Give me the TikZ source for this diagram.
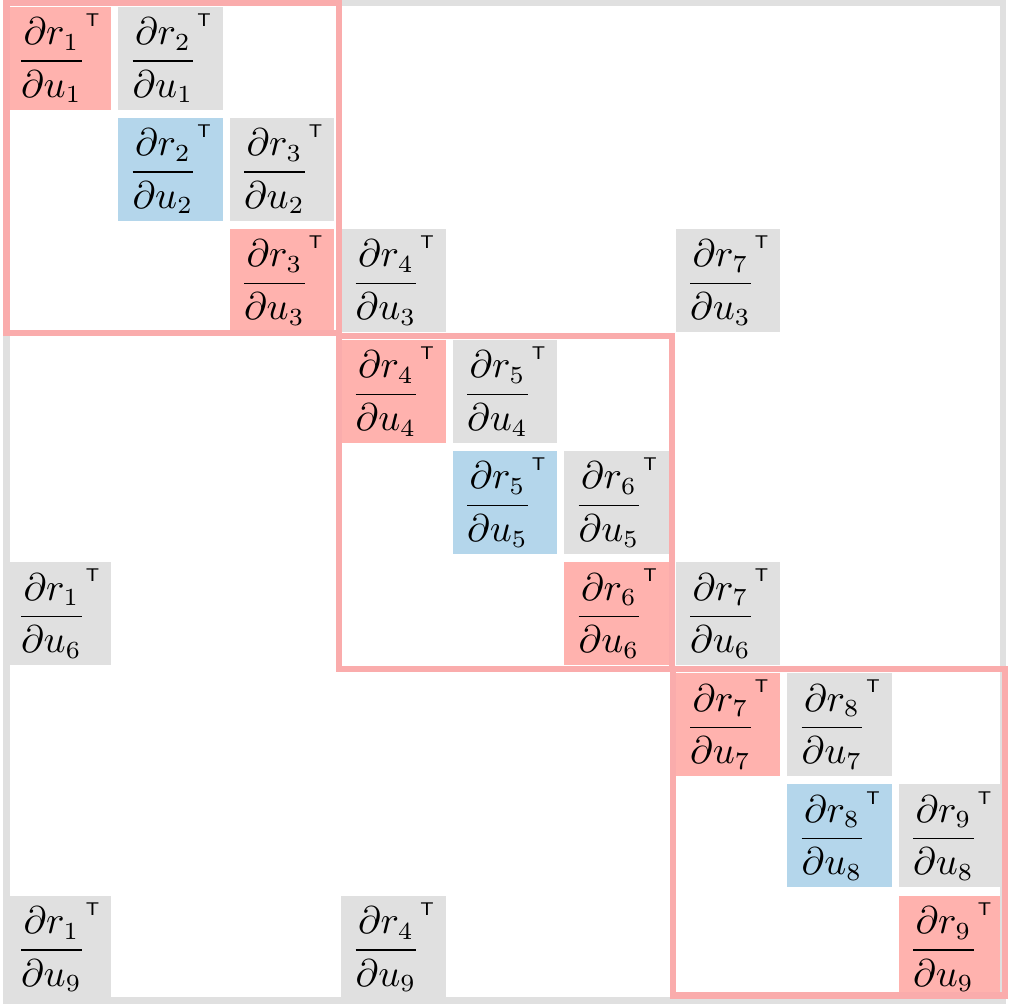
\documentclass[tikz,border=0pt]{standalone}
\usepackage{amsmath}
\usepackage{amssymb}
\usepackage{tikz}
\definecolor{redfill}{RGB}{255,178,174}
\definecolor{bluefill}{RGB}{180,214,235}
\definecolor{grayfill}{RGB}{224,224,224}
\definecolor{redline}{RGB}{250,172,172}

\begin{document}
\begin{tikzpicture}[x=0.01cm,y=-0.01cm]
		\tikzstyle{cell}=[minimum width=1.04cm, minimum height=1.03cm, inner sep=0pt, font=\fontsize{10.5}{13}\selectfont]
		\tikzstyle{red-cell}=[cell, fill=redfill]
		\tikzstyle{blue-cell}=[cell, fill=bluefill]
		\tikzstyle{gray-cell}=[cell, fill=grayfill]
		\tikzstyle{matrix-frame}=[draw=grayfill, line width=0.06cm]
		\tikzstyle{block}=[draw=redline, line width=0.06cm]
		\useasboundingbox (0,0) rectangle (1012,1004);
		% block rows 1-3
		\node [red-cell] at (59,58.5) (r1u1) {${\displaystyle\frac{\partial r_1}{\partial u_1}}^{\scriptscriptstyle\text{\sffamily T}}$};
		\node [gray-cell] at (170.5,58.5) (r2u1) {${\displaystyle\frac{\partial r_2}{\partial u_1}}^{\scriptscriptstyle\text{\sffamily T}}$};
		\node [blue-cell] at (170.5,169.5) (r2u2) {${\displaystyle\frac{\partial r_2}{\partial u_2}}^{\scriptscriptstyle\text{\sffamily T}}$};
		\node [gray-cell] at (282,169.5) (r3u2) {${\displaystyle\frac{\partial r_3}{\partial u_2}}^{\scriptscriptstyle\text{\sffamily T}}$};
		\node [red-cell] at (282,280.6) (r3u3) {${\displaystyle\frac{\partial r_3}{\partial u_3}}^{\scriptscriptstyle\text{\sffamily T}}$};
		\node [gray-cell] at (393.5,280.6) (r4u3) {${\displaystyle\frac{\partial r_4}{\partial u_3}}^{\scriptscriptstyle\text{\sffamily T}}$};
		\node [gray-cell] at (728,280.6) (r7u3) {${\displaystyle\frac{\partial r_7}{\partial u_3}}^{\scriptscriptstyle\text{\sffamily T}}$};
		% block rows 4-6
		\node [red-cell] at (393.5,391.7) (r4u4) {${\displaystyle\frac{\partial r_4}{\partial u_4}}^{\scriptscriptstyle\text{\sffamily T}}$};
		\node [gray-cell] at (505,391.7) (r5u4) {${\displaystyle\frac{\partial r_5}{\partial u_4}}^{\scriptscriptstyle\text{\sffamily T}}$};
		\node [blue-cell] at (505,502.7) (r5u5) {${\displaystyle\frac{\partial r_5}{\partial u_5}}^{\scriptscriptstyle\text{\sffamily T}}$};
		\node [gray-cell] at (616.5,502.7) (r6u5) {${\displaystyle\frac{\partial r_6}{\partial u_5}}^{\scriptscriptstyle\text{\sffamily T}}$};
		\node [gray-cell] at (59,613.8) (r1u6) {${\displaystyle\frac{\partial r_1}{\partial u_6}}^{\scriptscriptstyle\text{\sffamily T}}$};
		\node [red-cell] at (616.5,613.8) (r6u6) {${\displaystyle\frac{\partial r_6}{\partial u_6}}^{\scriptscriptstyle\text{\sffamily T}}$};
		\node [gray-cell] at (728,613.8) (r7u6) {${\displaystyle\frac{\partial r_7}{\partial u_6}}^{\scriptscriptstyle\text{\sffamily T}}$};
		% block rows 7-9
		\node [red-cell] at (728,724.8) (r7u7) {${\displaystyle\frac{\partial r_7}{\partial u_7}}^{\scriptscriptstyle\text{\sffamily T}}$};
		\node [gray-cell] at (839.5,724.8) (r8u7) {${\displaystyle\frac{\partial r_8}{\partial u_7}}^{\scriptscriptstyle\text{\sffamily T}}$};
		\node [blue-cell] at (839.5,835.9) (r8u8) {${\displaystyle\frac{\partial r_8}{\partial u_8}}^{\scriptscriptstyle\text{\sffamily T}}$};
		\node [gray-cell] at (951,835.9) (r9u8) {${\displaystyle\frac{\partial r_9}{\partial u_8}}^{\scriptscriptstyle\text{\sffamily T}}$};
		\node [gray-cell] at (59,947.5) (r1u9) {${\displaystyle\frac{\partial r_1}{\partial u_9}}^{\scriptscriptstyle\text{\sffamily T}}$};
		\node [gray-cell] at (393.5,947.5) (r4u9) {${\displaystyle\frac{\partial r_4}{\partial u_9}}^{\scriptscriptstyle\text{\sffamily T}}$};
		\node [red-cell] at (951,947.5) (r9u9) {${\displaystyle\frac{\partial r_9}{\partial u_9}}^{\scriptscriptstyle\text{\sffamily T}}$};
		% frames
		\draw [matrix-frame] (6.5,3.5) rectangle (1003.3,1000.5);
		\draw [block] (6.5,3.5) rectangle (338.5,333.5);
		\draw [block] (338.5,336) rectangle (672,669);
		\draw [block] (673,669.5) rectangle (1004.5,995.5);
	\end{tikzpicture}
\end{document}
